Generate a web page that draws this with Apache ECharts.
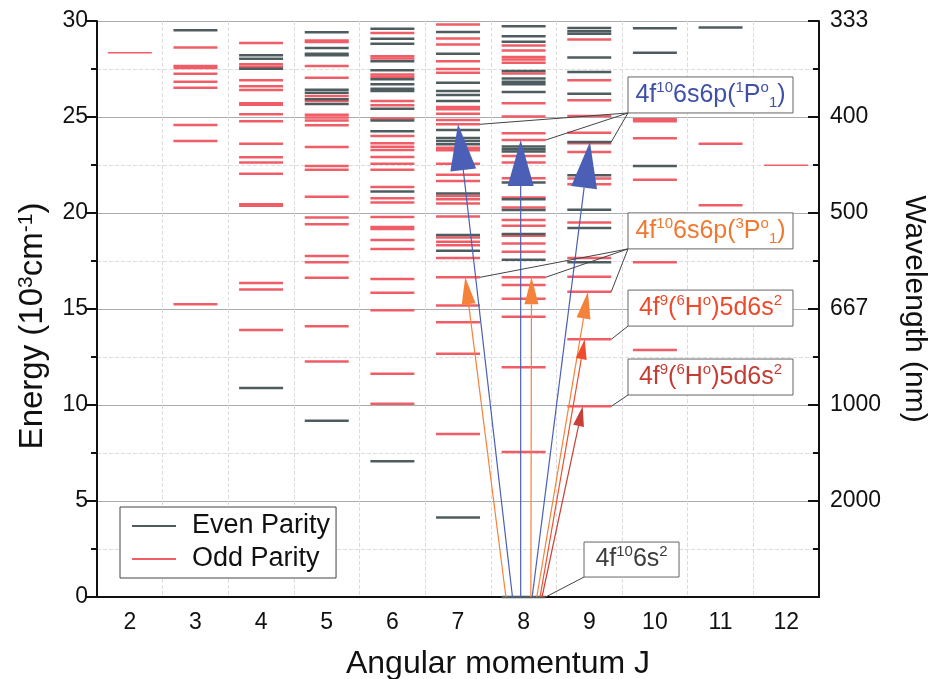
<!DOCTYPE html>
<html><head><meta charset="utf-8">
<script src="https://cdn.jsdelivr.net/npm/echarts@6/dist/echarts.min.js"></script>
<style>html,body{margin:0;padding:0;background:#fff}#c{width:929px;height:679px}</style>
</head><body><div id="c"></div>
<script>
// ---------- data ----------
const categories = ['2','3','4','5','6','7','8','9','10','11','12'];
const energyTicks = [0, 5, 10, 15, 20, 25, 30];
const wavelengthLabels = ['', '2000', '1000', '667', '500', '400', '333'];

// Even parity levels (10^3 cm^-1) by J
const evenJ3 = [29.52];
const evenJ4 = [28.21, 28.03, 27.51, 10.88];
const evenJ5 = [29.42, 28.6, 28.3, 28.22, 26.42, 26.26, 25.92, 25.68, 9.18];
const evenJ6 = [29.6, 29.07, 28.81, 27.91, 27.43, 26.96, 26.7, 26.47, 26.35, 25.43, 24.82, 24.26, 21.12, 7.07];
const evenJ7 = [29.43, 28.29, 26.78, 26.35, 26.14, 25.83, 24.32, 23.91, 23.75, 23.58, 21.01, 18.85, 18.04, 4.14];
const evenJ8 = [29.73, 29.21, 28.92, 27.39, 27.01, 26.84, 26.7, 26.3, 23.46, 23.32, 23.2, 21.59, 20.72, 20.15, 18.9, 17.57, 0];
const evenJ9 = [29.64, 29.47, 29.33, 28.1, 27.34, 26.21, 23.7, 21.97, 20.17, 19.22, 17.43];
const evenJ10 = [29.62, 28.34, 22.45];
const evenJ11 = [29.66];

// Odd parity levels (10^3 cm^-1) by J
const oddJ2 = [28.34];
const oddJ3 = [28.62, 27.65, 27.55, 27.25, 26.84, 26.52, 24.58, 23.75, 15.25];
const oddJ4 = [28.86, 27.75, 27.62, 26.92, 26.6, 26.4, 25.72, 25.64, 25.14, 24.78, 23.61, 22.9, 22.63, 22.04, 20.45, 20.38, 16.36, 16.01, 13.91];
const oddJ5 = [28.99, 28.9, 27.65, 27.04, 26.09, 25.83, 25.12, 24.97, 24.82, 24.57, 23.44, 22.45, 22.25, 20.84, 19.77, 19.42, 17.76, 17.43, 16.63, 14.1, 12.27];
const oddJ6 = [29.38, 28.17, 28.05, 27.22, 27.1, 25.83, 25.61, 24.92, 24.01, 23.63, 23.45, 23.28, 22.92, 22.57, 22.25, 21.35, 20.77, 20.55, 19.79, 19.27, 19.17, 18.59, 18.12, 16.56, 15.84, 14.93, 11.63, 10.07];
const oddJ7 = [29.82, 29.09, 28.78, 27.91, 27.5, 27.3, 25.52, 25.4, 25.17, 24.84, 24.62, 23.4, 23.27, 22.57, 21.99, 21.67, 20.89, 20.72, 20.49, 19.82, 18.73, 18.5, 18.32, 17.66, 16.65, 15.18, 14.31, 12.67, 8.49];
const oddJ8 = [28.73, 28.47, 28.12, 28.0, 27.82, 27.27, 25.71, 25.02, 24.15, 23.8, 22.97, 22.63, 21.81, 20.81, 20.29, 19.63, 19.33, 18.82, 18.41, 17.98, 16.65, 16.25, 15.53, 14.6, 11.97, 7.55];
const oddJ9 = [29.04, 26.92, 25.87, 25.05, 24.18, 23.63, 23.18, 21.8, 21.5, 19.51, 17.66, 16.68, 15.9, 13.42, 9.93];
const oddJ10 = [24.88, 24.78, 23.89, 21.73, 17.43, 12.87];
const oddJ11 = [23.61, 20.41];
const oddJ12 = [22.49];

// Transitions from the ground state (J, E=0) to upper levels
const transFromJ = [7.83, 7.955, 8.13, 7.73, 8.11, 8.2, 8.25, 8.28];
const transToJ   = [7.0, 7.955, 9.01, 7.11, 8.12, 8.98, 8.93, 8.9];
const transToE   = [24.62, 23.8, 23.7, 16.65, 16.65, 15.9, 13.42, 9.93];
const transKind  = ['P1', 'P1', 'P1', 'P3', 'P3', 'P3', 'H1', 'H2'];

// Configuration labels: anchor (bottom-left corner of box) in (J, E)
const labelTexts = [
  '4f{sup|10}6s6p({sup|1}P{sup|o}{sub|1})',
  '4f{sup|10}6s6p({sup|3}P{sup|o}{sub|1})',
  '4f{sup|9}({sup|6}H{sup|o})5d6s{sup|2}',
  '4f{sup|9}({sup|6}H{sup|o})5d6s{sup|2}',
  '4f{sup|10}6s{sup|2}'
];
const labelKind = ['P1', 'P3', 'H1', 'H2', 'G'];
const labelJ = [9.59, 9.59, 9.59, 9.59, 8.92];
const labelE = [25.21, 18.13, 14.11, 10.52, 1.04];
// leader line targets: label index -> level (J, E)
const leaderLabel = [0, 0, 0, 1, 1, 1, 2, 3, 4];
const leaderJ     = [7, 8, 9, 7, 8, 9, 9, 9, 8];
const leaderE     = [24.62, 23.8, 23.7, 16.65, 16.65, 15.9, 13.42, 9.93, 0];

// ---------- styles ----------
const FONT = '"Liberation Sans", Arial, Helvetica, sans-serif';
const EVEN_COLOR = '#4e5c60';
const ODD_COLOR = '#ef5d67';
const HALF = 0.335;
const kindStyle = {
  P1: {color: '#4a5fb5', text: '#3f50a8', headLen: 46, headW: 26},
  P3: {color: '#f5823a', text: '#f07830', headLen: 27, headW: 14},
  H1: {color: '#ef4c2c', text: '#ee4a2a', headLen: 20, headW: 11},
  H2: {color: '#c8403a', text: '#c43c33', headLen: 20, headW: 11},
  G:  {color: '#444444', text: '#3c3c3c'}
};
const boxSize = {P1: [165, 36], P3: [165, 36], H1: [165, 36], H2: [165, 36], G: [95, 35]};

function jIndex(j) { return j - 2; }
function buildLevels(arrs) {
  const out = [];
  arrs.forEach(function (pair) { pair[1].forEach(function (e) { out.push([jIndex(pair[0]), e]); }); });
  return out;
}
const evenData = buildLevels([[3, evenJ3], [4, evenJ4], [5, evenJ5], [6, evenJ6], [7, evenJ7], [8, evenJ8], [9, evenJ9], [10, evenJ10], [11, evenJ11]]);
const oddData = buildLevels([[2, oddJ2], [3, oddJ3], [4, oddJ4], [5, oddJ5], [6, oddJ6], [7, oddJ7], [8, oddJ8], [9, oddJ9], [10, oddJ10], [11, oddJ11], [12, oddJ12]]);
const transData = transFromJ.map(function (j, i) { return [jIndex(j), 0, jIndex(transToJ[i]), transToE[i]]; });
const labelData = labelJ.map(function (j, i) { return [jIndex(j), labelE[i]]; });
const leaderData = leaderLabel.map(function (li, i) { return [jIndex(labelJ[li]), labelE[li], jIndex(leaderJ[i]), leaderE[i]]; });

// pixel position for a (possibly fractional) category index, via the axis scale
function pt(api, xi, e) {
  const c0 = api.coord([0, e]);
  const bw = api.size([1, 0])[0];
  return [c0[0] + xi * bw, c0[1]];
}

function levelRenderer(color, width, thinCols) {
  return function (params, api) {
    const xi = api.value(0);
    const c = pt(api, xi, api.value(1));
    const hw = api.size([1, 0])[0] * HALF;
    const w = thinCols.indexOf(xi) >= 0 ? 1.5 : width;
    return {type: 'line', shape: {x1: c[0] - hw, y1: c[1], x2: c[0] + hw, y2: c[1]},
      style: {stroke: color, lineWidth: w}};
  };
}

function arrowRenderer(params, api) {
  const st = kindStyle[transKind[params.dataIndex]];
  const s = pt(api, api.value(0), api.value(1));
  const t = pt(api, api.value(2), api.value(3));
  const dx = t[0] - s[0], dy = t[1] - s[1];
  const L = Math.sqrt(dx * dx + dy * dy);
  const ux = dx / L, uy = dy / L;
  const bx = t[0] - ux * st.headLen, by = t[1] - uy * st.headLen;
  const nx = -uy * st.headW / 2, ny = ux * st.headW / 2;
  return {type: 'group', children: [
    {type: 'line', shape: {x1: s[0], y1: s[1], x2: bx, y2: by}, style: {stroke: st.color, lineWidth: 1.2}},
    {type: 'polygon', shape: {points: [[t[0], t[1]], [bx + nx, by + ny], [bx - nx, by - ny]]}, style: {fill: st.color}}
  ]};
}

function leaderRenderer(params, api) {
  const s = pt(api, api.value(0), api.value(1));
  const t = pt(api, api.value(2), api.value(3));
  const hw = api.size([1, 0])[0] * HALF;
  return {type: 'line', shape: {x1: s[0], y1: s[1], x2: t[0] + hw, y2: t[1]}, style: {stroke: '#444', lineWidth: 1}};
}

function labelRenderer(params, api) {
  const kind = labelKind[params.dataIndex];
  const st = kindStyle[kind];
  const sz = boxSize[kind];
  const c = pt(api, api.value(0), api.value(1));
  const col = st.text;
  return {type: 'group', children: [
    {type: 'rect', shape: {x: c[0], y: c[1] - sz[1], width: sz[0], height: sz[1]},
      style: {fill: '#ffffff', stroke: '#666', lineWidth: 1}},
    {type: 'text', style: {
      text: labelTexts[params.dataIndex], x: c[0] + sz[0] / 2, y: c[1] - sz[1] / 2,
      align: 'center', verticalAlign: 'middle',
      fill: col, fontSize: 25, fontFamily: FONT, lineHeight: 30,
      rich: {
        sup: {fontSize: 15, fill: col, fontFamily: FONT, verticalAlign: 'top', lineHeight: 30},
        sub: {fontSize: 15, fill: col, fontFamily: FONT, verticalAlign: 'bottom', lineHeight: 30}
      }
    }}
  ]};
}

const chart = echarts.init(document.getElementById('c'), null, {renderer: 'canvas'});
chart.setOption({
  backgroundColor: '#ffffff',
  animation: false,
  textStyle: {fontFamily: FONT},
  grid: {left: 97, right: 110, top: 21, bottom: 82, containLabel: false, outerBoundsMode: 'none'},
  legend: {
    data: [{name: 'Even Parity', icon: 'rect'}, {name: 'Odd Parity', icon: 'rect'}],
    orient: 'vertical', left: 120, top: 507, itemWidth: 44, itemHeight: 2, itemGap: 3,
    padding: [4, 6, 4, 12], borderColor: '#444', borderWidth: 1, backgroundColor: '#fff',
    selectedMode: false,
    textStyle: {fontSize: 27, color: '#111', fontFamily: FONT, lineHeight: 30, padding: [0, 0, 0, 11]}
  },
  xAxis: [{
    type: 'category', data: categories, boundaryGap: true, position: 'bottom', offset: 3,
    name: 'Angular momentum J', nameLocation: 'middle', nameGap: 48,
    nameTextStyle: {fontSize: 32, color: '#111', fontFamily: FONT, padding: [0, 0, 0, 80]},
    axisLine: {lineStyle: {color: '#111', width: 2}},
    axisTick: {inside: false, length: 6, lineStyle: {color: '#111', width: 2}},
    axisLabel: {fontSize: 23, color: '#111', margin: 11, fontFamily: FONT},
    splitLine: {show: true, lineStyle: {color: '#dcdcdc', type: 'dashed', width: 1}}
  }, {
    type: 'category', data: categories, boundaryGap: true, position: 'top',
    axisLine: {lineStyle: {color: '#111', width: 2}},
    axisTick: {inside: true, length: 6, lineStyle: {color: '#111', width: 2}},
    axisLabel: {show: false}, splitLine: {show: false}
  }],
  yAxis: [{
    type: 'value', min: 0, max: 30, interval: 5, position: 'left',
    name: 'Energy (10{sup|3}cm{sup|-1})', nameLocation: 'middle', nameGap: 48,
    nameTextStyle: {fontSize: 33, color: '#111', fontFamily: FONT, padding: [0, 34, 0, 0],
      rich: {sup: {fontSize: 21, color: '#111', fontFamily: FONT, verticalAlign: 'top'}}},
    axisLine: {show: true, lineStyle: {color: '#111', width: 2}},
    axisTick: {show: true, inside: false, length: 11, lineStyle: {color: '#111', width: 2}},
    minorTick: {show: true, splitNumber: 2, length: 6, lineStyle: {color: '#111', width: 2}},
    axisLabel: {fontSize: 23, color: '#111', margin: 9, fontFamily: FONT},
    splitLine: {show: true, lineStyle: {color: '#a8acae', width: 1}},
    minorSplitLine: {show: true, lineStyle: {color: '#dcdcdc', type: 'dashed', width: 1}}
  }, {
    type: 'value', min: 0, max: 30, interval: 5, position: 'right',
    name: 'Wavelength (nm)', nameLocation: 'middle', nameGap: 80, nameRotate: -90,
    nameTextStyle: {fontSize: 30, color: '#111', fontFamily: FONT},
    axisLine: {show: true, lineStyle: {color: '#111', width: 2}},
    axisTick: {show: true, inside: true, length: 11, lineStyle: {color: '#111', width: 2}},
    minorTick: {show: true, splitNumber: 2, length: 6, lineStyle: {color: '#111', width: 2}},
    axisLabel: {fontSize: 23, color: '#111', margin: 11, fontFamily: FONT,
      formatter: function (v) { const i = energyTicks.indexOf(v); return i >= 0 ? wavelengthLabels[i] : ''; }},
    splitLine: {show: false}
  }],
  series: [
    {name: 'Odd Parity', type: 'custom', renderItem: levelRenderer(ODD_COLOR, 2.5, [0, 10]), data: oddData,
      encode: {x: 0, y: 1}, itemStyle: {color: ODD_COLOR}, z: 2, silent: true},
    {name: 'Even Parity', type: 'custom', renderItem: levelRenderer(EVEN_COLOR, 2.5, []), data: evenData,
      encode: {x: 0, y: 1}, itemStyle: {color: EVEN_COLOR}, z: 3, silent: true},
    {name: 'transitions', type: 'custom', renderItem: arrowRenderer, data: transData,
      encode: {x: [0, 2], y: [1, 3]}, z: 4, silent: true},
    {name: 'leaders', type: 'custom', renderItem: leaderRenderer, data: leaderData,
      encode: {x: [0, 2], y: [1, 3]}, z: 5, silent: true},
    {name: 'labels', type: 'custom', renderItem: labelRenderer, data: labelData,
      encode: {x: 0, y: 1}, z: 6, silent: true}
  ]
});
</script>
</body></html>
